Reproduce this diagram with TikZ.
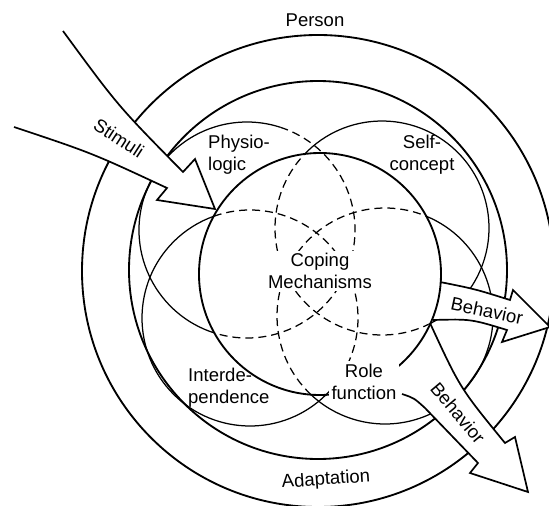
\documentclass[tikz,border=0pt]{standalone}
\usepackage{fontspec}
\setmainfont{Liberation Sans}
\begin{document}
\begin{tikzpicture}[x=1pt,y=-1pt,
  ring/.style={line width=1.85pt},
  mode/.style={line width=1.25pt},
  modedash/.style={line width=1.25pt, dash pattern=on 8pt off 5pt},
  flow/.style={line width=1.7pt, line join=miter, miter limit=20},
  lbl/.style={font=\fontsize{18.5}{22}\selectfont, inner sep=0pt},
  cover/.style={fill=white, inner sep=2.5pt},
]
\useasboundingbox (0,0) rectangle (549,506);

% centres
\coordinate (C) at (320,274);   % coping mechanisms
\coordinate (O) at (318,270);   % inner person ring
\coordinate (Q) at (318,271);   % outer person ring
\coordinate (P) at (247,230);   % physiologic mode
\coordinate (S) at (382,228);   % self-concept mode
\coordinate (I) at (250,318);   % interdependence mode
\coordinate (F) at (385,316);   % role function mode

% adaptive modes: solid outside the coping circle, dashed inside
\draw[mode]     (P) ++(107.6:108) arc[start angle=107.6, end angle=288, radius=108];
\draw[modedash] (P) ++(-72:108)   arc[start angle=-72, end angle=107.6, radius=108];
\draw[mode]     (S) ++(-136.3:107) arc[start angle=-136.3, end angle=63, radius=107];
\draw[modedash] (S) ++(63:107)     arc[start angle=63, end angle=223.7, radius=107];
\draw[mode]     (I) ++(45.3:108)   arc[start angle=45.3, end angle=250.4, radius=108];
\draw[modedash] (I) ++(-109.6:108) arc[start angle=-109.6, end angle=45.3, radius=108];
\draw[mode]     (F) ++(-67.5:108)  arc[start angle=-67.5, end angle=133.3, radius=108];
\draw[modedash] (F) ++(133.3:108)  arc[start angle=133.3, end angle=292.5, radius=108];

% person rings
\draw[ring] (O) circle[radius=189];
\draw[ring] (Q) circle[radius=236];

% stimuli arrow
\coordinate (s1) at (63,31);
\coordinate (s2) at (183,172);
\coordinate (s3) at (195,159);
\coordinate (st) at (215,209);
\coordinate (s4) at (157,200);
\coordinate (s5) at (167,188);
\coordinate (s6) at (14,127);
\fill[white] (s1) .. controls (118,106) .. (s2) -- (s3) -- (st) -- (s4) -- (s5)
  .. controls (92,153) .. (s6) -- cycle;
\draw[flow] (s1) .. controls (118,106) .. (s2) -- (s3) -- (st) -- (s4) -- (s5)
  .. controls (92,153) .. (s6);

% upper behaviour arrow
\coordinate (u1) at (440,282);
\coordinate (u2) at (510,300);
\coordinate (u3) at (513,290);
\coordinate (ut) at (550,327);
\coordinate (u4) at (502,342);
\coordinate (u5) at (507,330);
\coordinate (u6) at (433,320);
\fill[white] (u1) .. controls (475,289) .. (u2) -- (u3) -- (ut) -- (u4) -- (u5)
  .. controls (471,319) .. (u6) -- cycle;
\draw[flow] (u1) .. controls (475,289) .. (u2) -- (u3) -- (ut) -- (u4) -- (u5)
  .. controls (471,319) .. (u6);

% lower behaviour arrow
\coordinate (l1) at (430,323);
\coordinate (l2) at (505,443);
\coordinate (l3) at (515,437);
\coordinate (lt) at (528,492);
\coordinate (l4) at (470,473);
\coordinate (l5) at (478,463);
\coordinate (l6) at (425,408);
\coordinate (l7) at (402,394);
\coordinate (l8) at (403,360);
\fill[white] (l1) .. controls (460,388) .. (l2) -- (l3) -- (lt) -- (l4) -- (l5) -- (l6)
  .. controls (414,398) .. (l7) -- (l8) -- cycle;
\draw[flow] (l1) .. controls (460,388) .. (l2) -- (l3) -- (lt) -- (l4) -- (l5) -- (l6)
  .. controls (414,398) .. (l7);

% coping mechanisms circle
\draw[ring] (C) circle[radius=121];

% labels
\node[lbl, anchor=base] (person) at (315,26) {Person};
\node[lbl, rotate=-33] (stim) at (119,138) {Stimuli};
\node[lbl, align=left, anchor=west] (phys) at (208,154.5) {Physio-\\logic};
\node[lbl, align=center] (self) at (422,154.5) {Self-\\concept};
\node[lbl, cover, align=center] (cope) at (320,271) {Coping\\Mechanisms};
\node[lbl, cover, align=center] (role) at (364,381.5) {Role\\function};
\node[lbl, align=left, anchor=west] (inter) at (188,388) {Interde-\\pendence};
\node[lbl, rotate=-12] (beh1) at (487,311) {Behavior};
\node[lbl, rotate=-50] (beh2) at (458,413) {Behavior};
\node[lbl, rotate=4] (adapt) at (326,480) {Adaptation};
\end{tikzpicture}
\end{document}
